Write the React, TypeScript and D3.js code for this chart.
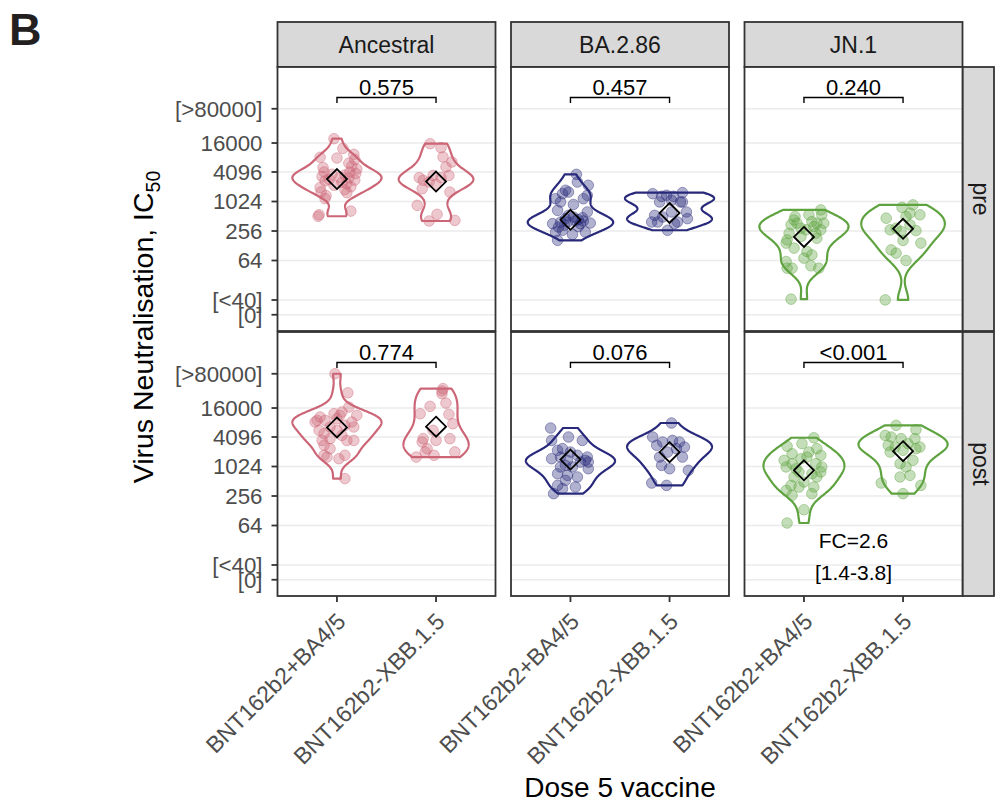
import React from 'react';
import * as d3 from 'd3';

const variants = ['Ancestral', 'BA.2.86', 'JN.1'];
const timepoints = ['pre', 'post'];
const vaccines = ['BNT162b2+BA4/5', 'BNT162b2-XBB.1.5'];
const variantColours = ['#cc6677', '#28297a', '#5ea33f'];

const yTickValues = [5, 10, 64, 256, 1024, 4096, 16000, 80000];
const yTickLabels = ['[0]', '[<40]', '64', '256', '1024', '4096', '16000', '[>80000]'];

// each point: [log2 IC50, horizontal jitter in category units]
const ancestralPreBA45 = [
  [14.26, -0.03], [13.6, 0.06], [13.2, 0.17], [13.0, -0.17], [12.95, 0.0], [12.85, 0.18], [12.6, 0.12],
  [12.4, 0.15], [12.3, -0.14], [12.2, 0.2], [12.0, 0.13], [12.0, -0.13], [11.9, 0.19], [11.85, -0.05],
  [11.8, 0.08], [11.7, -0.15], [11.65, 0.03], [11.6, 0.12], [11.5, -0.08], [11.45, 0.18], [11.4, -0.12],
  [11.3, 0.05], [11.2, 0.1], [11.1, -0.03], [11.0, 0.14], [10.95, -0.17], [10.8, 0.08], [10.65, -0.16],
  [10.6, 0.1], [10.4, -0.11], [10.2, -0.12], [9.35, 0.14], [9.1, -0.18], [9.0, -0.19],
];
const ancestralPreXBB = [
  [13.92, -0.06], [13.65, 0.05], [13.02, 0.07], [12.68, 0.16], [12.34, 0.1], [11.77, 0.13], [11.77, -0.03],
  [11.62, -0.17], [11.62, 0.05], [11.44, -0.13], [11.32, -0.07], [11.16, 0.0], [10.87, -0.14], [10.64, 0.14],
  [9.74, -0.19], [9.13, 0.01], [8.68, -0.07], [8.72, 0.19],
];
const ba286PreBA45 = [
  [11.84, 0.06], [11.32, 0.07], [11.1, 0.18], [10.76, -0.05], [10.53, -0.08], [10.64, -0.02], [10.19, -0.15],
  [9.97, -0.1], [10.42, 0.17], [10.19, 0.13], [9.8, 0.03], [9.4, -0.13], [9.06, -0.02], [8.77, 0.08],
  [8.68, 0.13], [8.54, 0.2], [8.5, -0.18], [8.27, -0.12], [8.61, -0.03], [8.95, 0.03], [7.93, 0.15],
  [7.77, 0.02], [7.93, -0.15], [7.37, -0.13], [8.84, -0.05], [8.5, 0.1], [8.05, -0.08], [9.29, 0.17],
  [8.4, -0.06], [8.7, 0.05], [8.9, 0.12], [8.3, 0.08], [8.6, -0.1],
];
const ba286PreXBB = [
  [10.53, -0.17], [10.35, -0.08], [10.42, -0.03], [10.35, 0.04], [10.6, 0.13], [9.97, 0.11], [9.97, -0.1],
  [10.08, 0.02], [9.29, 0.17], [8.84, 0.18], [8.61, 0.08], [9.06, -0.15], [8.61, -0.18], [8.61, -0.12],
  [8.05, -0.02], [9.29, 0.02], [8.95, -0.07], [8.5, 0.05], [9.97, 0.13],
];
const jn1PreBA45 = [
  [9.43, 0.17], [9.1, 0.18], [8.98, -0.09], [9.1, 0.05], [8.64, 0.08], [8.42, -0.13], [8.53, -0.07],
  [8.19, -0.03], [8.53, 0.13], [8.53, 0.2], [7.85, -0.15], [7.85, 0.12], [8.08, 0.17], [7.18, -0.18],
  [6.84, -0.1], [7.4, -0.17], [7.51, 0.13], [6.61, 0.03], [6.16, 0.0], [6.38, 0.08], [5.93, -0.18],
  [5.48, -0.17], [5.48, -0.12], [5.64, 0.07], [5.48, 0.15], [3.38, -0.13], [8.08, 0.02], [7.63, -0.03],
  [8.3, 0.1], [8.75, -0.1],
];
const jn1PreXBB = [
  [9.6, -0.01], [9.77, 0.1], [9.21, 0.07], [9.1, 0.17], [8.87, -0.17], [8.08, -0.13], [8.19, -0.07],
  [7.97, -0.02], [8.42, 0.07], [8.03, 0.13], [7.36, 0.0], [6.72, -0.12], [6.5, -0.07], [7.18, 0.18],
  [6.0, 0.03], [3.33, -0.18], [8.98, 0.03],
];
const ancestralPostBA45 = [
  [16.29, -0.02], [15.0, 0.11], [14.03, 0.12], [13.7, 0.05], [13.47, 0.03], [13.36, -0.17], [13.47, 0.2],
  [13.13, -0.12], [13.13, -0.2], [13.02, 0.15], [12.68, 0.17], [12.79, 0.08], [12.68, -0.07], [12.45, -0.18],
  [12.45, 0.0], [12.23, -0.13], [12.11, 0.05], [11.89, -0.07], [11.77, 0.17], [11.77, -0.15], [11.77, 0.1],
  [11.44, -0.13], [11.21, -0.07], [10.76, 0.08], [10.76, -0.13], [10.53, 0.02], [10.64, -0.1], [9.18, 0.08],
  [13.24, 0.0], [13.58, -0.03], [13.02, -0.22],
];
const ancestralPostXBB = [
  [15.28, 0.07], [14.94, 0.06], [15.12, 0.06], [14.08, -0.06], [14.3, 0.1], [13.58, -0.16], [13.54, 0.13],
  [12.9, 0.17], [12.45, -0.03], [11.89, -0.13], [11.66, -0.14], [11.89, 0.14], [11.77, 0.0], [11.21, -0.09],
  [10.99, -0.11], [10.64, -0.2], [10.76, -0.02], [10.99, 0.19],
];
const ba286PostBA45 = [
  [12.61, -0.2], [12.0, -0.02], [11.77, -0.19], [11.77, 0.12], [11.21, -0.08], [10.98, 0.0], [10.64, 0.17],
  [10.53, -0.19], [10.3, 0.1], [10.08, -0.05], [9.85, 0.18], [9.51, -0.13], [9.29, 0.07], [9.06, -0.05],
  [8.72, -0.13], [8.61, 0.05], [8.16, -0.17], [9.97, 0.02], [10.64, -0.1], [10.42, 0.15], [10.76, 0.07],
  [9.4, -0.03], [8.5, -0.08], [10.42, -0.03], [11.1, -0.13], [10.3, 0.18], [9.97, -0.1],
];
const ba286PostXBB = [
  [12.95, 0.02], [12.0, -0.17], [11.44, -0.13], [11.66, -0.07], [11.66, 0.1], [11.32, 0.15], [10.98, -0.02],
  [10.08, -0.08], [9.85, 0.0], [10.64, 0.13], [9.74, 0.19], [8.88, -0.18], [8.72, -0.03], [10.64, -0.1],
  [11.21, 0.07], [11.77, 0.03],
];
const jn1PostBA45 = [
  [11.95, 0.1], [11.37, -0.17], [11.55, -0.02], [11.21, 0.13], [10.87, -0.12], [10.98, 0.05], [10.76, 0.17],
  [10.42, -0.2], [10.19, -0.12], [10.53, -0.03], [10.19, 0.12], [9.97, 0.18], [9.97, -0.18], [9.63, -0.05],
  [9.51, 0.08], [9.63, 0.17], [9.29, -0.1], [8.95, 0.0], [8.72, -0.13], [8.61, 0.1], [8.38, -0.18],
  [8.16, 0.08], [8.05, -0.12], [7.07, 0.0], [6.17, -0.17], [10.64, 0.03], [9.85, -0.08], [9.29, 0.13],
  [8.61, -0.05],
];
const jn1PostXBB = [
  [12.79, -0.07], [12.5, 0.13], [12.11, -0.18], [12.0, -0.12], [11.89, -0.02], [11.89, 0.12], [11.44, -0.15],
  [11.32, -0.08], [11.55, 0.05], [11.32, 0.17], [10.98, -0.13], [10.42, 0.1], [10.19, -0.03], [9.97, 0.03],
  [9.4, 0.07], [8.88, -0.22], [9.29, -0.03], [8.72, 0.18], [8.16, 0.0], [11.1, 0.0], [11.21, 0.13],
];

// geometric means (diamonds), log2 IC50, [BA4/5, XBB.1.5] per variant
const meansPre = [[11.52, 11.35], [8.76, 9.22], [7.6, 8.15]];
const meansPost = [[12.65, 12.7], [10.47, 10.97], [9.74, 11.04]];

const pValuesPre = ['0.575', '0.457', '0.240'];
const pValuesPost = ['0.774', '0.076', '<0.001'];
const foldChange = ['FC=2.6', '[1.4-3.8]'];

const panelGroups = [
  [[ancestralPreBA45, ancestralPreXBB], [ba286PreBA45, ba286PreXBB], [jn1PreBA45, jn1PreXBB]],
  [[ancestralPostBA45, ancestralPostXBB], [ba286PostBA45, ba286PostXBB], [jn1PostBA45, jn1PostXBB]],
];
const panelMeans = [meansPre, meansPost];
const panelP = [pValuesPre, pValuesPost];

const FONT = 'Liberation Sans, Arial, Helvetica, sans-serif';
const panelLefts = [277.5, 511, 744.5];
const panelW = 218;
const rowTops = [67, 332];
const panelH = 264;
const yDomain = [1.22, 19.12];
const BORDER = '#333';

function kde(values: number[]) {
  const sorted = values.slice().sort((a, b) => a - b);
  const n = sorted.length;
  const sd = d3.deviation(sorted) || 1;
  const iqr = (d3.quantile(sorted, 0.75)! - d3.quantile(sorted, 0.25)!) / 1.34;
  const lo = Math.min(sd, iqr) || sd;
  const bw = 0.9 * lo * Math.pow(n, -0.2);
  const min = sorted[0], max = sorted[n - 1];
  return d3.range(160).map(i => {
    const t = min + ((max - min) * i) / 159;
    const dens = d3.mean(sorted, v => Math.exp(-0.5 * ((t - v) / bw) ** 2) / Math.sqrt(2 * Math.PI))! / bw;
    return [t, dens];
  });
}

function Panel({ row, col }: { row: number; col: number }) {
  const left = panelLefts[col];
  const top = rowTops[row];
  const x = d3.scalePoint<string>().domain(vaccines).range([left, left + panelW]).padding(0.6);
  const y = d3.scaleLinear().domain(yDomain).range([top + panelH, top]);
  const colour = variantColours[col];
  const groups = panelGroups[row][col];
  const dens = groups.map(g => kde(g.map(p => p[0])));
  const maxD = d3.max(dens.flat(), d => d[1])!;
  const half = 0.45 * x.step();
  const line = d3.line();
  const x1 = x(vaccines[0])!, x2 = x(vaccines[1])!;
  const yb = y(17.05), yt = y(16.68);

  return (
    <g>
      <rect x={left} y={top} width={panelW} height={panelH} fill="#fff" />
      {yTickValues.map(v => (
        <line key={v} x1={left} x2={left + panelW} y1={y(Math.log2(v))} y2={y(Math.log2(v))}
          stroke="#ebebeb" strokeWidth={1.6} />
      ))}
      {dens.map((d, gi) => {
        const cx = x(vaccines[gi])!;
        const pts: [number, number][] = [
          ...d.map(([t, v]) => [cx + (v / maxD) * half, y(t)] as [number, number]),
          ...d.slice().reverse().map(([t, v]) => [cx - (v / maxD) * half, y(t)] as [number, number]),
        ];
        return <path key={gi} d={line(pts) + 'Z'} fill="none" stroke={colour} strokeWidth={2.2} strokeLinejoin="round" />;
      })}
      {groups.map((g, gi) =>
        g.map((p, i) => (
          <circle key={gi + '-' + i} cx={x(vaccines[gi])! + p[1] * x.step()} cy={y(p[0])} r={5.3}
            fill={colour} fillOpacity={0.36} stroke={colour} strokeOpacity={0.42} strokeWidth={1} />
        ))
      )}
      {panelMeans[row][col].map((m, gi) => {
        const cx = x(vaccines[gi])!, cy = y(m);
        return <path key={gi} d={`M${cx},${cy - 10}L${cx + 10},${cy}L${cx},${cy + 10}L${cx - 10},${cy}Z`}
          fill="none" stroke="#000" strokeWidth={1.8} />;
      })}
      <path d={`M${x1},${yt}V${yb}H${x2}V${yt}`} fill="none" stroke="#000" strokeWidth={1.4} />
      <text x={(x1 + x2) / 2} y={yb - 3} textAnchor="middle" fontSize={22} fontFamily={FONT} fill="#000">
        {panelP[row][col]}
      </text>
      {row === 1 && col === 2 && (
        <g fontSize={21} fontFamily={FONT} fill="#000" textAnchor="middle">
          <text x={(x1 + x2) / 2} y={y(4.45)}>{foldChange[0]}</text>
          <text x={(x1 + x2) / 2} y={y(2.3)}>{foldChange[1]}</text>
        </g>
      )}
      <rect x={left} y={top} width={panelW} height={panelH} fill="none" stroke={BORDER} strokeWidth={1.8} />
      {row === 1 && vaccines.map(v => (
        <g key={v}>
          <line x1={x(v)} x2={x(v)} y1={top + panelH} y2={top + panelH + 6} stroke={BORDER} strokeWidth={1.8} />
          <text transform={`translate(${x(v)! + 10},${top + panelH + 27}) rotate(-45)`} textAnchor="end"
            fontSize={23} fontFamily={FONT} fill="#4d4d4d">{v}</text>
        </g>
      ))}
      {col === 0 && yTickValues.map((v, i) => (
        <g key={v}>
          <line x1={left - 6} x2={left} y1={y(Math.log2(v))} y2={y(Math.log2(v))} stroke={BORDER} strokeWidth={1.8} />
          <text x={left - 15} y={y(Math.log2(v))} dy="0.35em" textAnchor="end" fontSize={22.3} fontFamily={FONT}
            fill="#4d4d4d">{yTickLabels[i]}</text>
        </g>
      ))}
    </g>
  );
}

export default function App() {
  return (
    <svg width={996} height={802} style={{ position: 'absolute', left: 0, top: 0, background: '#fff' }}>
      <rect width={996} height={802} fill="#fff" />
      <text x={9} y={45} fontSize={45} fontWeight="bold" fontFamily={FONT} fill="#231f20">B</text>
      {variants.map((v, c) => (
        <g key={v}>
          <rect x={panelLefts[c]} y={22} width={panelW} height={45} fill="#d9d9d9" stroke={BORDER} strokeWidth={1.8} />
          <text x={panelLefts[c] + panelW / 2} y={52.8} textAnchor="middle" fontSize={23} fontFamily={FONT}
            fill="#1a1a1a">{v}</text>
        </g>
      ))}
      {timepoints.map((t, r) => (
        <g key={t}>
          <rect x={panelLefts[2] + panelW} y={rowTops[r]} width={31.5} height={panelH} fill="#d9d9d9"
            stroke={BORDER} strokeWidth={1.8} />
          <text transform={`translate(${panelLefts[2] + panelW + 10},${rowTops[r] + panelH / 2}) rotate(90)`}
            textAnchor="middle" fontSize={23} fontFamily={FONT} fill="#1a1a1a">{t}</text>
        </g>
      ))}
      {timepoints.map((t, r) => variants.map((v, c) => <Panel key={t + v} row={r} col={c} />))}
      <text transform="translate(153,327) rotate(-90)" textAnchor="middle" fontSize={28.5} fontFamily={FONT} fill="#000">
        Virus Neutralisation, IC<tspan fontSize={19.5} dy={7}>50</tspan>
      </text>
      <text x={620} y={797} textAnchor="middle" fontSize={28} fontFamily={FONT} fill="#000">Dose 5 vaccine</text>
    </svg>
  );
}
